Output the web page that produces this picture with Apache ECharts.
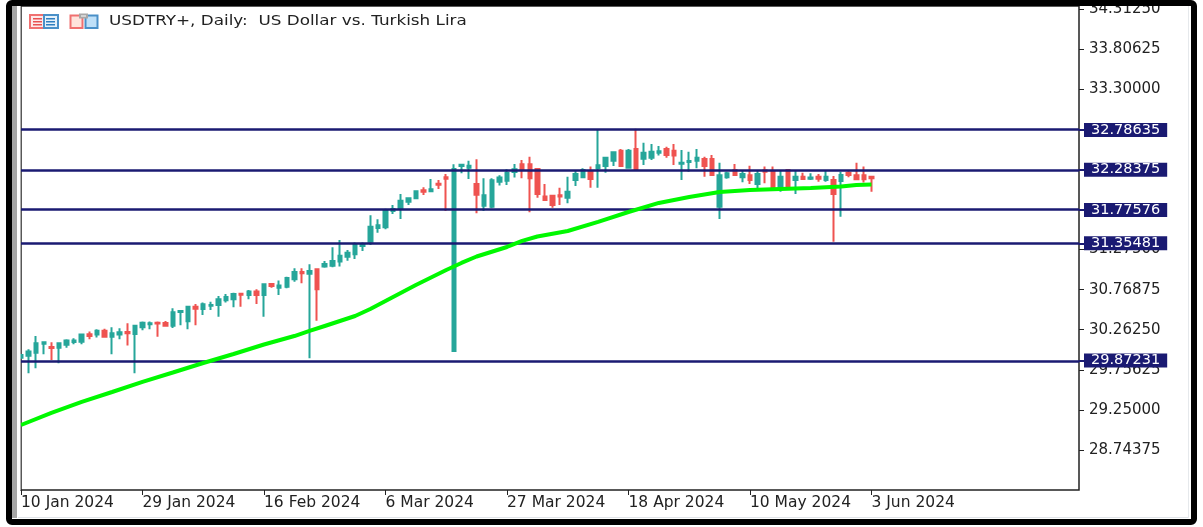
<!DOCTYPE html>
<html>
<head>
<meta charset="utf-8">
<title>USDTRY+ Daily</title>
<script src="https://cdn.jsdelivr.net/npm/echarts@6/dist/echarts.min.js"></script>
<style>
  html, body { margin: 0; padding: 0; background: #fff; }
  #main { width: 1203px; height: 527px; filter: blur(0.4px); }
</style>
</head>
<body>
<div id="main"></div>
<script>
// candles, one row per bar: open, close, low, high
var candles = [
  [29.910,29.944,29.902,29.957],[29.935,29.986,29.712,30.015],[29.973,30.091,29.775,30.184],[30.087,30.104,29.952,30.108],
  [30.045,30.032,29.881,30.104],[30.036,30.091,29.839,30.104],[30.074,30.125,30.036,30.142],[30.108,30.125,30.079,30.154],
  [30.112,30.201,30.079,30.209],[30.205,30.184,30.142,30.239],[30.201,30.251,30.163,30.268],[30.251,30.175,30.175,30.276],
  [30.175,30.218,29.952,30.293],[30.201,30.230,30.142,30.281],[30.234,30.218,30.062,30.344],[30.209,30.314,29.712,30.327],
  [30.293,30.352,30.255,30.365],[30.331,30.344,30.268,30.365],[30.352,30.340,30.175,30.365],[30.348,30.314,30.302,30.373],
  [30.314,30.483,30.285,30.533],[30.487,30.500,30.319,30.512],[30.369,30.554,30.268,30.567],[30.554,30.529,30.319,30.588],
  [30.525,30.584,30.449,30.605],[30.567,30.575,30.512,30.617],[30.575,30.647,30.428,30.689],[30.634,30.676,30.605,30.714],
  [30.647,30.714,30.546,30.731],[30.718,30.706,30.554,30.723],[30.702,30.744,30.647,30.765],[30.744,30.702,30.588,30.773],
  [30.702,30.836,30.428,30.836],[30.841,30.815,30.794,30.853],[30.794,30.820,30.702,30.883],[30.807,30.916,30.786,30.933],
  [30.899,30.992,30.870,31.038],[30.992,30.975,30.849,31.038],[30.971,31.005,29.902,31.089],[31.026,30.773,30.377,31.026],
  [31.060,31.093,31.047,31.131],[31.072,31.131,31.051,31.304],[31.123,31.198,31.060,31.396],[31.186,31.236,31.135,31.270],
  [31.215,31.342,31.156,31.363],[31.321,31.342,31.257,31.363],[31.375,31.565,31.333,31.708],[31.548,31.582,31.489,31.657],
  [31.556,31.775,31.531,31.792],[31.763,31.788,31.725,31.838],[31.796,31.893,31.662,31.977],[31.880,31.923,31.838,31.931],
  [31.923,32.011,31.910,32.024],[32.024,32.007,31.965,32.061],[32.011,32.036,31.998,32.167],[32.108,32.095,32.040,32.154],
  [32.188,32.171,31.763,32.230],[29.994,32.293,29.994,32.352],[32.331,32.348,32.238,32.352],[32.310,32.335,32.167,32.398],
  [32.104,31.969,31.733,32.415],[31.830,31.960,31.763,32.175],[31.817,32.150,31.796,32.175],[32.133,32.184,32.083,32.213],
  [32.146,32.247,32.091,32.289],[32.255,32.289,32.184,32.356],[32.352,32.289,32.175,32.407],[32.352,32.175,31.746,32.449],
  [32.293,31.977,31.931,32.293],[31.944,31.902,31.902,32.104],[31.956,31.838,31.805,31.956],[31.960,31.944,31.838,32.057],
  [31.931,32.007,31.859,32.196],[32.154,32.230,32.078,32.280],[32.188,32.281,32.188,32.302],[32.259,32.167,32.057,32.323],
  [32.302,32.339,32.057,32.786],[32.331,32.436,32.247,32.449],[32.398,32.504,32.331,32.512],[32.525,32.331,32.323,32.546],
  [32.310,32.525,32.302,32.546],[32.546,32.293,32.268,32.800],[32.424,32.499,32.344,32.626],[32.436,32.512,32.407,32.609],
  [32.499,32.516,32.462,32.584],[32.546,32.470,32.436,32.575],[32.525,32.462,32.344,32.609],[32.360,32.373,32.154,32.533],
  [32.382,32.394,32.259,32.512],[32.398,32.436,32.302,32.546],[32.419,32.331,32.196,32.449],[32.419,32.217,32.205,32.470],
  [31.817,32.213,31.662,32.373],[32.188,32.238,32.171,32.259],[32.281,32.217,32.217,32.356],[32.188,32.230,32.125,32.281],
  [32.213,32.154,32.104,32.335],[32.104,32.230,32.049,32.281],[32.276,32.259,32.112,32.323],[32.259,32.057,32.049,32.323],
  [32.070,32.196,32.007,32.281],[32.281,32.070,32.070,32.281],[32.154,32.196,31.977,32.281],[32.196,32.167,32.154,32.247],
  [32.171,32.184,32.154,32.238],[32.196,32.171,32.133,32.230],[32.154,32.196,32.133,32.281],[32.154,31.977,31.375,32.205],
  [32.142,32.217,31.691,32.259],[32.247,32.217,32.188,32.272],[32.213,32.163,32.154,32.373],[32.213,32.163,32.121,32.323],
  [32.196,32.175,32.007,32.209]
]

// moving average, read at these bars
var maBars = [0,4,8,12,16,20,24,28,32,36,38,40,44,46,48,52,56,58,60,64,66,68,72,76,80,84,88,92,96,100,104,108,110,112]
var maValues = [29.059,29.211,29.350,29.476,29.603,29.722,29.842,29.956,30.076,30.183,30.247,30.310,30.436,30.525,30.626,30.828,31.017,31.106,31.188,31.308,31.384,31.440,31.510,31.624,31.750,31.864,31.939,32.003,32.028,32.041,32.053,32.072,32.091,32.097]

var levels = [32.78635, 32.28375, 31.77576, 31.35481, 29.87231]
var priceTicks = [34.3125, 33.80625, 33.3, 31.275, 30.76875, 30.2625, 29.75625, 29.25, 28.74375]
var dateTicks = [0, 16, 32, 48, 64, 80, 96, 112]
var dateLabels = ['10 Jan 2024','29 Jan 2024','16 Feb 2024','6 Mar 2024','27 Mar 2024','18 Apr 2024','10 May 2024','3 Jun 2024']

var title = 'USDTRY+, Daily:  US Dollar vs. Turkish Lira'
var font = 'DejaVu Sans'
var navy = '#1a1a72'
var red = '#ef5350'
var teal = '#26a69a'
var blue = '#2f7fc0'

var myChart = echarts.init(document.getElementById('main'))

// little toolbar icons next to the title
function box(x, y, w, h, color, fill) {
  return { type: 'rect', shape: { x: x, y: y, width: w, height: h }, style: { fill: fill || 'none', stroke: color, lineWidth: 2 } }
}
function dash(x, y, w, color) {
  return { type: 'rect', shape: { x: x, y: y, width: w, height: 1.5 }, style: { fill: color } }
}
var icons = [
  box(30, 15, 14, 13, '#f07070', '#fde9e9'), box(44, 15, 14, 13, '#4a90c8', '#e6f1fa'),
  dash(33, 18, 9, '#e85050'), dash(33, 21, 9, '#e85050'), dash(33, 24, 9, '#e85050'),
  dash(46, 18, 9, blue), dash(46, 21, 9, blue), dash(46, 24, 9, blue),
  box(70.5, 15.5, 12, 12.5, '#f07070', '#ffe3dc'), box(85.5, 15.5, 12, 12.5, '#4a90c8', '#bfe0f8'),
  box(80, 14.5, 7, 3, '#a8a8a8', '#fff')
]

var option = {
  animation: false,
  backgroundColor: '#fff',
  grid: { left: 21, right: 124, top: 6, height: 484, show: true, borderColor: '#222', borderWidth: 1.5, backgroundColor: '#fff' },
  xAxis: {
    type: 'value', min: 0, max: 139.33, splitLine: { show: false },
    axisLine: { show: false, onZero: false },
    axisTick: { customValues: dateTicks, length: 5, lineStyle: { color: '#222' } },
    axisLabel: {
      customValues: dateTicks, align: 'left', margin: 5, fontFamily: font, fontSize: 15.5, color: '#222',
      formatter: function (v) { return dateLabels[dateTicks.indexOf(v)] }
    }
  },
  yAxis: [
    {
      type: 'value', position: 'right', min: 28.238, max: 34.352, scale: true, splitLine: { show: false },
      axisLine: { show: false, onZero: false },
      axisTick: { customValues: priceTicks, length: 5, lineStyle: { color: '#222' } },
      axisLabel: {
        customValues: priceTicks, margin: 10, fontFamily: font, fontSize: 15, color: '#222',
        formatter: function (v) { return v.toFixed(5) }
      }
    },
    {
      // horizontal level tags sit on their own axis so they cover the price labels
      type: 'value', position: 'right', min: 28.238, max: 34.352, scale: true, z: 5, splitLine: { show: false },
      axisLine: { show: false, onZero: false },
      axisTick: { customValues: levels, length: 5, lineStyle: { color: navy, width: 2 } },
      axisLabel: {
        customValues: levels, margin: 5, fontFamily: font, fontSize: 14.5, color: '#fff',
        backgroundColor: navy, padding: [0, 7, 0, 7], lineHeight: 14,
        formatter: function (v) { return v.toFixed(5) }
      }
    }
  ],
  series: [
    {
      type: 'candlestick', z: 2, barWidth: 4,
      encode: { x: 0, y: [1, 2, 3, 4] },
      data: candles.map(function (c, i) { return [i, c[0], c[1], c[2], c[3]] }),
      itemStyle: { color: teal, color0: red, borderColor: teal, borderColor0: red, borderWidth: 2 },
      markLine: {
        silent: true, symbol: 'none', z: 6, label: { show: false },
        lineStyle: { color: navy, width: 2.5, type: 'solid' },
        data: levels.map(function (v) { return { yAxis: v } })
      }
    },
    {
      type: 'line', z: 10, showSymbol: false, silent: true,
      data: maBars.map(function (b, i) { return [b, maValues[i]] }),
      lineStyle: { color: '#00f800', width: 4 }
    }
  ],
  graphic: [
    { type: 'rect', z: 50, shape: { x: 17, y: 6, width: 3.5, height: 484 }, style: { fill: '#fff' } },
    { type: 'rect', z: 100, shape: { x: 18, y: 517, width: 1171, height: 1 }, style: { fill: '#dfe3e8' } },
    { type: 'rect', z: 100, shape: { x: 1188, y: 6, width: 1, height: 512 }, style: { fill: '#e6e9ec' } },
    { type: 'rect', z: 100, shape: { x: 12, y: 6, width: 5, height: 512 }, style: { fill: '#a6a6a6' } },
    { type: 'rect', z: 101, shape: { x: 9, y: 3, width: 1185, height: 519, r: 3 }, style: { fill: 'none', stroke: '#000', lineWidth: 6 } },
    { type: 'group', z: 102, children: icons },
    {
      type: 'text', z: 102, x: 109, y: 21.5, scaleX: 1.2, originX: 0,
      style: { text: title, font: '14px "DejaVu Sans"', fill: '#222', textVerticalAlign: 'middle' }
    }
  ]
}

myChart.setOption(option)
</script>
</body>
</html>
